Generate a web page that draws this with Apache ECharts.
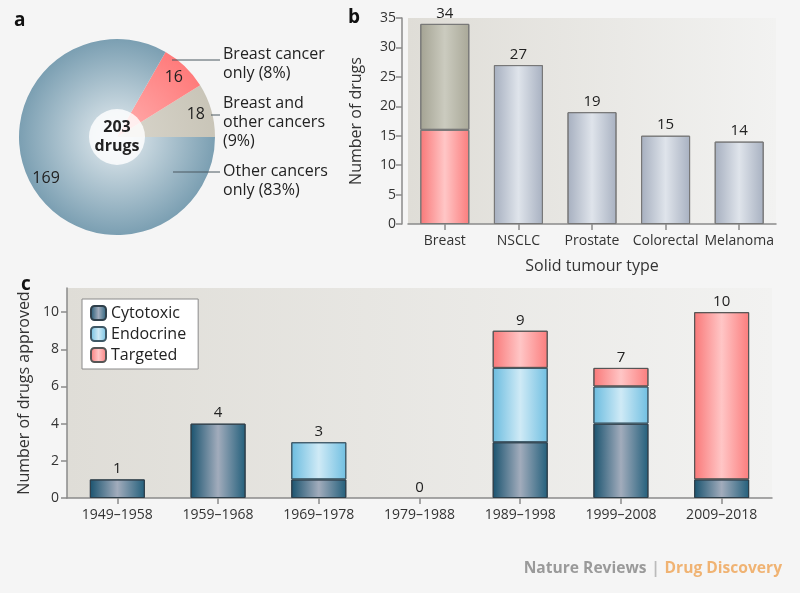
<!DOCTYPE html>
<html><head><meta charset="utf-8">
<script src="https://cdn.jsdelivr.net/npm/echarts@6/dist/echarts.min.js"></script>
<style>html,body{margin:0;padding:0;background:#f5f5f5}#c{width:800px;height:593px}</style>
</head><body><div id="c"></div>
<script>
// ---- Panel a data ----
const pieNames = ['Breast and\nother cancers\n(9%)', 'Breast cancer\nonly (8%)', 'Other cancers\nonly (83%)'];
const pieValues = [18, 16, 169];
const pieCentreText = '203\ndrugs';

// ---- Panel b data ----
const tumourTypes = ['Breast', 'NSCLC', 'Prostate', 'Colorectal', 'Melanoma'];
const breastOnly = [16, null, null, null, null];
const otherPart = [18, 27, 19, 15, 14];
const tumourTotals = [34, 27, 19, 15, 14];

// ---- Panel c data ----
const decades = ['1949–1958', '1959–1968', '1969–1978', '1979–1988', '1989–1998', '1999–2008', '2009–2018'];
const cytotoxic = [1, 4, 1, null, 3, 4, 1];
const endocrine = [null, null, 2, null, 4, 2, null];
const targeted = [null, null, null, null, 2, 1, 9];
const decadeTotals = [1, 4, 3, 0, 9, 7, 10];
const cTicks = [0, 2, 4, 6, 8, 10];

const FONT = 'Open Sans';
function hgrad(edge, mid, edge2) {
  return {type: 'linear', x: 0, y: 0, x2: 1, y2: 0,
    colorStops: [{offset: 0, color: edge}, {offset: 0.5, color: mid}, {offset: 1, color: edge2 || edge}]};
}
const bgGrad = {type: 'linear', x: 0, y: 0, x2: 1, y2: 0,
  colorStops: [{offset: 0, color: '#dfddd7'}, {offset: 1, color: '#f2f2f1'}]};
const PC = [117, 137], PR = 98;
function rgrad(c0, c1) {
  return {type: 'radial', x: PC[0], y: PC[1], r: PR, global: true,
    colorStops: [{offset: 0, color: c0}, {offset: 1, color: c1}]};
}
const pieColors = [rgrad('#d9d6cc', '#c9c5b8'), rgrad('#ffb0b0', '#ff7b7b'), rgrad('#e6edf1', '#7b9fb2')];
// callout layout (label centre y, leader line points)
const calloutY = [122, 64, 181];
const calloutLines = [
  [[211, 115], [215, 115], [220, 115]],
  [[172, 60], [196, 60], [220, 60]],
  [[173, 172], [196, 172], [220, 172]]
];

const red = hgrad('#f97878', '#ffc6c6', '#fb7d7d');
const axisLine = {show: true, lineStyle: {color: '#8a8a8a', width: 1.5}};
const txt = {fontFamily: FONT, color: '#333'};

const option = {
  backgroundColor: '#f5f5f5',
  textStyle: {fontFamily: FONT},
  title: [
    {text: 'a', left: 9, top: 6, textStyle: {fontSize: 19, fontWeight: 'bold', color: '#111', fontFamily: FONT}},
    {text: 'b', left: 343, top: 3, textStyle: {fontSize: 19, fontWeight: 'bold', color: '#111', fontFamily: FONT}},
    {text: 'c', left: 16, top: 270, textStyle: {fontSize: 19, fontWeight: 'bold', color: '#111', fontFamily: FONT}},
    {text: '{n|Nature Reviews} {s||} {d|Drug Discovery}', right: 13, bottom: 10,
      textStyle: {rich: {
        n: {fontFamily: FONT, fontWeight: 'bold', fontSize: 15.6, color: '#9a9a9a'},
        s: {fontFamily: FONT, fontSize: 15.6, color: '#bbbbbb'},
        d: {fontFamily: FONT, fontWeight: 'bold', fontSize: 15.6, color: '#f0b373'}}}}
  ],
  legend: {
    data: ['Cytotoxic', 'Endocrine', 'Targeted'], orient: 'vertical', left: 82, top: 299,
    backgroundColor: '#ffffff', borderColor: '#8a8a8a', borderWidth: 1, borderRadius: 0,
    padding: [6, 12, 6, 8], itemWidth: 15, itemHeight: 14, itemGap: 5,
    textStyle: {fontSize: 16, color: '#222', fontFamily: FONT}
  },
  grid: [
    {left: 408, right: 24, top: 18, bottom: 369, show: true, backgroundColor: bgGrad, borderWidth: 0},
    {left: 67, right: 28, top: 288, bottom: 95, show: true, backgroundColor: bgGrad, borderWidth: 0}
  ],
  xAxis: [
    {gridIndex: 0, type: 'category', data: tumourTypes, axisLine: axisLine,
      axisTick: {show: true, alignWithLabel: true, length: 6, lineStyle: {color: '#8a8a8a', width: 1.5}},
      axisLabel: Object.assign({fontSize: 14, margin: 10, interval: 0}, txt),
      name: 'Solid tumour type', nameLocation: 'middle', nameGap: 34,
      nameTextStyle: Object.assign({fontSize: 16}, txt)},
    {gridIndex: 1, type: 'category', data: decades, axisLine: axisLine,
      axisTick: {show: true, alignWithLabel: true, length: 6, lineStyle: {color: '#8a8a8a', width: 1.5}},
      axisLabel: Object.assign({fontSize: 14, margin: 10, interval: 0}, txt)}
  ],
  yAxis: [
    {gridIndex: 0, type: 'value', min: 0, max: 35, interval: 5, offset: 6,
      axisLine: axisLine, axisTick: {show: true, length: 6, lineStyle: {color: '#8a8a8a', width: 1.5}},
      splitLine: {show: false}, axisLabel: Object.assign({fontSize: 14, margin: 6}, txt),
      name: 'Number of drugs', nameLocation: 'middle', nameGap: 38,
      nameTextStyle: Object.assign({fontSize: 16}, txt)},
    {gridIndex: 1, type: 'value', min: 0, max: 11.3, interval: 2,
      axisLine: axisLine,
      axisTick: {show: true, length: 6, customValues: cTicks, lineStyle: {color: '#8a8a8a', width: 1.5}},
      splitLine: {show: false},
      axisLabel: Object.assign({fontSize: 14, margin: 8, customValues: cTicks}, txt),
      name: 'Number of drugs approved', nameLocation: 'middle', nameGap: 32,
      nameTextStyle: Object.assign({fontSize: 16}, txt)}
  ],
  series: [
    // Panel a
    {type: 'pie', z: 1, center: PC, radius: [0, PR], startAngle: 0, clockwise: false, silent: true,
      data: pieValues.map((v, i) => ({value: v, name: pieNames[i], itemStyle: {color: pieColors[i]}})),
      label: {show: false}, labelLine: {show: false}, itemStyle: {borderWidth: 0}},
    {type: 'pie', z: 4, center: PC, radius: [60, PR], startAngle: 0, clockwise: false, silent: true,
      data: pieValues.map((v, i) => ({value: v, name: pieNames[i]})),
      itemStyle: {color: 'rgba(0,0,0,0)'},
      label: {show: true, position: 'inside', formatter: '{c}', fontSize: 16, color: '#222', fontFamily: FONT},
      labelLine: {show: false}},
    {type: 'pie', z: 3, center: PC, radius: [0, PR], startAngle: 0, clockwise: false, silent: true,
      avoidLabelOverlap: false,
      data: pieValues.map((v, i) => ({value: v, name: pieNames[i]})),
      itemStyle: {color: 'rgba(0,0,0,0)'},
      label: {show: true, position: 'outside', formatter: '{b}', fontSize: 16, lineHeight: 19,
        color: '#222', fontFamily: FONT, overflow: 'none'},
      labelLine: {show: true, length: 8, length2: 20, lineStyle: {color: '#4a5860', width: 1}},
      labelLayout: p => ({x: 223, y: calloutY[p.dataIndex], align: 'left', verticalAlign: 'middle',
        labelLinePoints: calloutLines[p.dataIndex]})},
    {type: 'pie', z: 5, center: PC, radius: [0, 28], silent: true,
      data: [{value: 1, name: 'centre'}],
      itemStyle: {color: 'rgba(255,255,255,0.82)'},
      label: {show: true, position: 'center', formatter: pieCentreText, fontSize: 16, lineHeight: 19,
        fontWeight: 'bold', color: '#222', fontFamily: FONT},
      labelLine: {show: false}},
    // Panel b
    {type: 'bar', name: 'Breast only', xAxisIndex: 0, yAxisIndex: 0, stack: 'b', barWidth: 49,
      data: breastOnly, itemStyle: {color: red, borderColor: '#777', borderWidth: 1}},
    {type: 'bar', name: 'Other', xAxisIndex: 0, yAxisIndex: 0, stack: 'b', barWidth: 49,
      data: otherPart.map((v, i) => i === 0 ? {value: v, itemStyle: {color: hgrad('#a4a393', '#cbcbbf', '#a9a898')}} : v),
      itemStyle: {color: hgrad('#a6afbf', '#dfe4eb', '#a8b1c1'), borderColor: '#777', borderWidth: 1}},
    {type: 'bar', name: 'Total b', xAxisIndex: 0, yAxisIndex: 0, barWidth: 49, barGap: '-100%', silent: true,
      data: tumourTotals, itemStyle: {color: 'rgba(0,0,0,0)'},
      label: {show: true, position: 'top', distance: 3, fontSize: 15, color: '#222', fontFamily: FONT}},
    // Panel c
    {type: 'bar', name: 'Cytotoxic', xAxisIndex: 1, yAxisIndex: 1, stack: 'c', barWidth: 55,
      data: cytotoxic, itemStyle: {color: hgrad('#1a536f', '#a2acbc', '#235f7b'), borderColor: '#2f3f4a', borderWidth: 1}},
    {type: 'bar', name: 'Endocrine', xAxisIndex: 1, yAxisIndex: 1, stack: 'c', barWidth: 55,
      data: endocrine, itemStyle: {color: hgrad('#6bbcdf', '#cfeaf6', '#70bfe1'), borderColor: '#3e5866', borderWidth: 1}},
    {type: 'bar', name: 'Targeted', xAxisIndex: 1, yAxisIndex: 1, stack: 'c', barWidth: 55,
      data: targeted, itemStyle: {color: red, borderColor: '#555', borderWidth: 1}},
    {type: 'bar', name: 'Total c', xAxisIndex: 1, yAxisIndex: 1, barWidth: 55, barGap: '-100%', silent: true,
      data: decadeTotals, itemStyle: {color: 'rgba(0,0,0,0)'},
      label: {show: true, position: 'top', distance: 3, fontSize: 15, color: '#222', fontFamily: FONT}}
  ]
};
const chart = echarts.init(document.getElementById('c'), null, {renderer: 'canvas'});
chart.setOption(option);
</script></body></html>
